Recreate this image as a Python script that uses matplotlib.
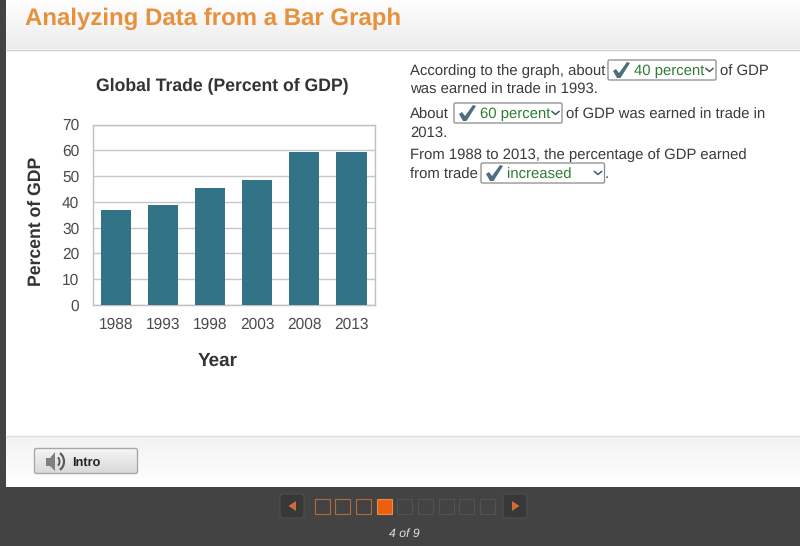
import matplotlib as mpl

mpl.rcParams["font.family"] = ["Liberation Sans", "DejaVu Sans"]
mpl.rcParams["text.hinting"] = "none"

import matplotlib.pyplot as plt
import numpy as np
from matplotlib.patches import FancyBboxPatch, Polygon, Rectangle, Arc

years = ["1988", "1993", "1998", "2003", "2008", "2013"]
trade_pct = [36.8, 38.6, 45.3, 48.5, 59.4, 59.4]
y_ticks = [0, 10, 20, 30, 40, 50, 60, 70]

W, H = 800, 546
DARK = "#434343"
TEXT = "#3a3a3a"
GREEN = "#2e7d32"
CHECK = "#4f6f80"
ORANGE = "#e8913c"

fig = plt.figure(figsize=(W / 100, H / 100), dpi=100, facecolor=DARK)

# page chrome, drawn in pixel coordinates (y down)
ui = fig.add_axes([0, 0, 1, 1])
ui.set_xlim(0, W)
ui.set_ylim(H, 0)
ui.axis("off")


def vgrad(x0, x1, y0, y1, c0, c1, z=1):
    c0 = np.array(mpl.colors.to_rgb(c0))
    c1 = np.array(mpl.colors.to_rgb(c1))
    t = np.linspace(0, 1, 64)[:, None, None]
    img = c0[None, None, :] * (1 - t) + c1[None, None, :] * t
    ui.imshow(img, extent=[x0, x1, y1, y0], aspect="auto", zorder=z)


ui.add_patch(Rectangle((6, 0), W - 6, 487, fc="white", ec="none", zorder=0))
vgrad(6, W, 0, 49, "#ffffff", "#ececec")
ui.plot([6, W], [49.5, 49.5], color="#cfcfcf", lw=1, zorder=2)
vgrad(6, W, 436, 487, "#f3f3f3", "#ffffff")
ui.plot([6, W], [435.5, 435.5], color="#dcdcdc", lw=1, zorder=2)

ui.text(25, 19, "Analyzing Data from a Bar Graph", color=ORANGE, fontsize=17.25,
        fontweight="bold", va="center", ha="left", zorder=3)

# question text
body = dict(color=TEXT, fontsize=10.7, va="center", ha="left", zorder=3)
ui.text(410, 71.5, "According to the graph, about", **body)
ui.text(720, 71.5, "of GDP", **body)
ui.text(410, 90, "was earned in trade in 1993.", **body)
ui.text(410, 114.5, "About", **body)
ui.text(565.5, 114.5, "of GDP was earned in trade in", **body)
ui.text(410, 133, "2013.", **body)
ui.text(410, 155.5, "From 1988 to 2013, the percentage of GDP earned", **body)
ui.text(410, 174.5, "from trade", **body)
ui.text(605, 174.5, ".", **body)


def dropdown(x0, x1, yc, label):
    ui.add_patch(FancyBboxPatch((x0, yc - 10), x1 - x0, 20,
                                boxstyle="round,pad=0,rounding_size=1.5",
                                fc="white", ec="#8a8a8a", lw=0.9, zorder=3))
    # check mark
    cx, cy = x0 + 5, yc
    ui.add_patch(Polygon([[cx, cy + 1], [cx + 3, cy - 1], [cx + 6, cy + 3], [cx + 14, cy - 8],
                          [cx + 17, cy - 7], [cx + 7.5, cy + 8], [cx + 4, cy + 8]],
                         fc=CHECK, ec="none", zorder=4))
    ui.text(x0 + 26, yc + 1.5, label, color=GREEN, fontsize=10.7, va="center", ha="left", zorder=4)
    ui.plot([x1 - 10, x1 - 6.5, x1 - 3], [yc - 1.5, yc + 1.5, yc - 1.5],
            color="#3f5a68", lw=1.1, zorder=5)


dropdown(608, 716, 70, "40 percent")
dropdown(454, 562, 113, "60 percent")
dropdown(481, 604.5, 173, "increased")

# intro button
vgrad(35, 137, 449, 473, "#f5f5f5", "#d9d9d9", z=3)
ui.add_patch(FancyBboxPatch((34.5, 448.5), 103, 25, boxstyle="round,pad=0,rounding_size=2",
                            fc="none", ec="#a8a8a8", lw=1, zorder=4))
ui.add_patch(Polygon([[46, 458], [50, 458], [55, 452], [55, 471], [50, 466], [46, 466]],
                     fc="#808080", ec="none", zorder=4))
ui.add_patch(Arc((56, 461.5), 7, 10, theta1=-65, theta2=65, ec="#5a5a5a", lw=1.4, zorder=4))
ui.add_patch(Arc((56, 461.5), 16, 19, theta1=-65, theta2=65, ec="#5a5a5a", lw=1.6, zorder=4))
ui.text(72.5, 463.5, "Intro", color="#222222", fontsize=9.2, fontweight="bold",
        va="center", ha="left", zorder=4)

# pager
for x0, pts in [(280, [[296, 501], [296, 511], [288.5, 506]]),
                (503, [[512, 501], [512, 511], [519.5, 506]])]:
    ui.add_patch(FancyBboxPatch((x0, 494), 24, 24, boxstyle="round,pad=0,rounding_size=3",
                                fc="#383838", ec="#4e4e4e", lw=0.9, zorder=3))
    ui.add_patch(Polygon(pts, fc="#cf6d38", ec="none", zorder=4))
for i in range(9):
    x0 = 314.5 + i * 20.7
    if i < 3:
        fc, ec = "none", "#b06a3e"
    elif i == 3:
        fc, ec = "#ec5f10", "#ee8a48"
    else:
        fc, ec = "none", "#525252"
    ui.add_patch(Rectangle((x0, 498.5), 15, 15, fc=fc, ec=ec, lw=0.8, zorder=3))
ui.text(404, 533.5, "4 of 9", color="#e0e0e0", fontsize=8.8, style="italic",
        va="center", ha="center", zorder=3)

# bar chart
left, right, top, bottom = 92.5, 375, 124.5, 305
ax = fig.add_axes([left / W, 1 - bottom / H, (right - left) / W, (bottom - top) / H])
ax.set_facecolor("white")
ax.bar(years, trade_pct, width=0.64, color="#327387", zorder=3)
ax.set_xlim(-0.5, 5.5)
ax.set_ylim(0, 70)
ax.set_yticks(y_ticks)
ax.grid(axis="y", color="#c6c6c6", lw=1, zorder=1)
ax.tick_params(axis="x", length=0, labelsize=11.2, labelcolor="#4a4a4a", pad=8.5)
ax.tick_params(axis="y", length=0, labelsize=11.2, labelcolor="#4a4a4a", pad=9.5)
for s in ax.spines.values():
    s.set_color("#c0c0c0")
    s.set_linewidth(1)
ax.set_xlabel("Year", fontsize=13.6, fontweight="bold", color="#333333")
ax.xaxis.set_label_coords((218 - left) / (right - left), (bottom - 352) / (bottom - top))
ax.set_ylabel("Percent of GDP", fontsize=12.7, fontweight="bold", color="#333333")
ax.yaxis.set_label_coords((45 - left) / (right - left), (bottom - 221.5) / (bottom - top))
ui.text(222, 86, "Global Trade (Percent of GDP)", fontsize=12.7, fontweight="bold",
        color="#333333", va="center", ha="center", zorder=3)

fig.savefig("out.png", dpi=100, facecolor=DARK)
